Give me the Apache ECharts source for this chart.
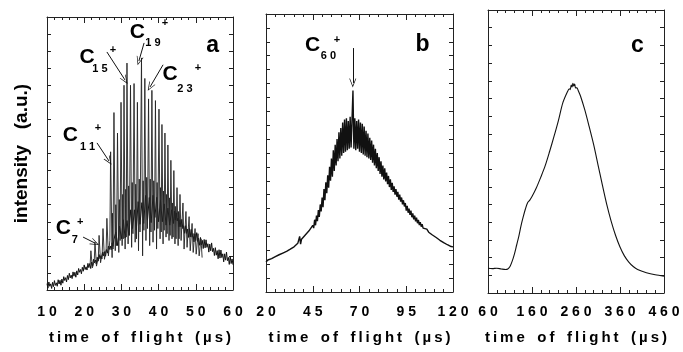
<!DOCTYPE html>
<html><head><meta charset="utf-8">
<script src="https://cdn.jsdelivr.net/npm/echarts@6/dist/echarts.min.js"></script>
<style>html,body{margin:0;padding:0;background:#fff}#c{width:683px;height:352px}</style>
</head><body><div id="c"></div>
<script>
// ---------- tick labels ----------
const ticksA = [10, 20, 30, 40, 50, 60];
const ticksB = [20, 45, 70, 95, 120];
const ticksC = [60, 160, 260, 360, 460];
const yMaxA = 16, yMaxB = 20, yMaxC = 16;

// ---------- panel a : noisy background [t(us), intensity] ----------
const baseA = [[10,0.37],[10.25,0.11],[10.5,0.47],[10.75,0.22],[11,0.36],[11.25,0.09],[11.5,0.45],[11.75,0.2],[12,0.55],[12.25,0.27],[12.5,0.42],[12.75,0.22],[13,0.6],[13.25,0.35],[13.5,0.57],[13.75,0.28],[14,0.64],[14.25,0.4],[14.5,0.78],[14.75,0.56],[15,0.72],[15.25,0.47],[15.5,0.85],[15.75,0.61],[16,0.98],[16.25,0.71],[16.5,0.87],[16.75,0.67],[17,1.06],[17.25,0.81],[17.5,1.04],[17.75,0.75],[18,1.12],[18.25,0.88],[18.5,1.26],[18.75,1.04],[19,1.2],[19.25,0.95],[19.5,1.33],[19.75,1.1],[20,1.47],[20.25,1.2],[20.5,1.36],[20.75,1.17],[21,1.56],[21.25,1.31],[21.5,1.55],[21.75,1.26],[22,1.64],[22.25,1.41],[22.5,1.8],[22.75,1.59],[23,1.76],[23.25,1.52],[23.5,1.92],[23.75,1.69],[24,2.08],[24.25,1.83],[24.5,2.01],[24.75,1.82],[25,2.23],[25.25,2.0],[25.5,2.25],[25.75,1.98],[26,2.37],[26.25,2.16],[26.5,2.57],[26.75,2.38],[27,2.58],[27.25,2.36],[27.5,2.77],[27.75,2.56],[28,2.97],
  [28.5,3.4],[29,2.6],[29.5,3.75],[30,3.0],[30.5,4.12],[31,3.05],[31.5,4.07],[32,3.2],[32.5,4.7],[33,3.6],[33.5,4.7],[34,3.5],[34.5,5.18],[35,3.85],[35.5,5.12],[36,3.9],[36.5,5.54],[37,4.08],[37.5,5.42],[38,3.95],[38.5,5.55],[39,4.25],[39.5,5.43],[40,4.0],[40.5,5.26],[41,4.0],[41.5,5.05],[42,3.8],[42.5,4.8],[43,3.8],[43.5,4.7],[44,3.9],
  [44.25,4.62],[44.5,4.1],[44.75,4.52],[45,4.05],[45.25,4.22],[45.5,3.7],[45.75,4.12],[46,3.7],[46.25,4.14],[46.5,3.6],[46.75,3.76],[47,3.32],[47.25,3.77],[47.5,3.32],[47.75,3.57],[48,3.08],[48.25,3.6],[48.5,3.1],[48.75,3.55],[49,3.1],[49.25,3.31],[49.5,2.82],[49.75,3.29],[50,2.9],[50.25,3.36],[50.5,2.85],[50.75,3.04],[51,2.62],[51.25,3.08],[51.5,2.64],[51.75,2.91],[52,2.43],[52.25,2.96],[52.5,2.47],[52.75,2.94],[53,2.5],[53.25,2.71],[53.5,2.22],[53.75,2.69],[54,2.3],[54.25,2.76],[54.5,2.25],[54.75,2.44],[55,2.02],[55.25,2.48],[55.5,2.04],[55.75,2.31],[56,1.83],[56.25,2.36],[56.5,1.87],[56.75,2.34],[57,1.9],[57.25,2.12],[57.5,1.65],[57.75,2.12],[58,1.75],[58.25,2.22],[58.5,1.72],[58.75,1.91],[59,1.5],[59.25,1.97],[59.5,1.55],[59.75,1.82],[60,1.48]];

// ---------- panel a : cluster peak comb [t(us), intensity] ----------
const combA = [[21.6,1.5],[21.8,2.3],[22.2,1.3],[22.7,1.7],[22.9,2.8],[23.3,1.4],[23.8,1.9],[24.0,3.2],[24.4,1.6],[24.85,2.2],[25.05,3.6],[25.45,1.8],[25.9,2.4],[26.1,4.2],[26.5,2.0],[26.9,2.9],[27.1,8.1],[27.5,1.9],[27.6,4.5],[27.75,2.4],[28.0,10.4],[28.35,2.3],[28.5,5.0],[28.7,2.6],[28.95,9.2],[29.3,2.2],[29.45,5.3],[29.65,2.9],[29.9,11.0],[30.2,2.6],[30.35,5.6],[30.5,3.0],[30.7,12.0],[31.0,2.4],[31.15,5.9],[31.3,3.1],[31.5,13.3],[31.8,2.7],[31.95,6.1],[32.15,3.2],[32.45,12.0],[32.75,2.5],[32.9,6.3],[33.1,3.3],[33.4,12.1],[33.7,2.8],[33.85,6.2],[34.05,3.0],[34.3,11.0],[34.6,2.3],[34.8,6.5],[35.0,3.4],[35.4,13.6],[35.7,2.0],[35.85,6.4],[36.05,3.5],[36.3,12.4],[36.6,2.9],[36.8,6.6],[37.0,3.6],[37.3,11.2],[37.6,2.6],[37.75,6.5],[37.95,3.4],[38.2,11.7],[38.5,2.8],[38.7,6.4],[38.9,3.5],[39.15,11.1],[39.45,2.4],[39.6,6.3],[39.8,3.6],[40.1,10.6],[40.4,3.0],[40.5,6.0],[40.7,3.4],[40.9,9.7],[41.2,2.7],[41.3,5.8],[41.5,3.5],[41.7,9.2],[42.0,3.1],[42.1,5.6],[42.3,3.3],[42.5,8.5],[42.8,2.9],[42.9,5.4],[43.1,3.2],[43.3,7.6],[43.6,3.0],[43.7,5.1],[43.9,3.1],[44.1,7.0],[44.4,2.7],[44.5,4.9],[44.7,3.0],[44.95,6.0],[45.25,2.6],[45.35,4.6],[45.5,3.0],[45.75,5.6],[46.05,2.9],[46.55,5.1],[46.85,2.4],[47.35,4.6],[47.65,2.5],[48.2,4.3],[48.5,2.3],[49.0,3.9],[49.3,2.2],[49.8,3.6],[50.1,2.1],[50.6,3.3],[50.9,2.0],[51.4,3.0],[51.7,1.9]];

// ---------- panel b [t(us), intensity] ----------
const curveB = [[20,2.15],[21,2.3],[22,2.25],[23,2.4],[24,2.35],[25,2.55],[26,2.5],[27,2.68],[28,2.62],[29,2.8],[30,2.72],[31,2.92],[32,2.88],[33,3.08],[34,3.0],[35,3.25],[36,3.22],[37,3.5],[37.5,3.4],[38,4.0],[38.5,3.45],[39,3.8],[40,3.85],[41,4.1],[42,4.15],[43,4.4],[44,4.5],[45,4.8],[45.5,4.6],[46,5.2],[46.5,4.8],[47,5.5],[47.5,5.1],[48,5.9],[48.5,5.4],[49,6.3],[49.5,5.8],[50,6.8],[50.5,6.1],[51,7.4],[51.5,6.6],[52,7.9],[52.5,7.1],[53,8.4],[53.5,7.5],[54,9.0],[54.5,8.0],[55,9.6],[55.5,8.3],[56,10.2],[56.5,8.7],[57,10.6],[57.5,9.1],[58,11.0],[58.5,9.4],[59,11.5],[59.5,9.6],[60,11.8],[60.5,9.8],[61,12.2],[61.5,10.0],[62,12.4],[62.5,10.1],[63,12.5],[63.5,10.2],[64,12.3],[64.5,10.3],[65,12.6],[65.5,10.4],[66,12.4],[66.5,14.5],[67,10.3],[67.5,12.5],[68,10.2],[68.5,12.3],[69,10.3],[69.5,12.4],[70,10.1],[70.5,12.2],[71,10.0],[71.5,12.1],[72,9.9],[72.5,11.9],[73,9.8],[73.5,11.6],[74,9.7],[74.5,11.4],[75,9.6],[75.5,11.1],[76,9.5],[76.5,10.9],[77,9.3],[77.5,10.6],[78,9.1],[78.5,10.3],[79,8.9],[79.5,10.0],[80,8.7],[80.5,9.7],[81,8.5],[81.5,9.4],[82,8.3],[82.5,9.1],[83,8.1],[83.5,8.9],[84,7.95],[84.5,8.6],[85,7.75],[85.5,8.35],[86,7.55],[86.5,8.1],[87,7.35],[87.5,7.85],[88,7.2],[88.5,7.6],[89,7.0],[89.5,7.4],[90,6.85],[90.5,7.2],[91,6.65],[91.5,7.0],[92,6.5],[92.5,6.8],[93,6.3],[93.5,6.6],[94,6.15],[94.5,6.4],[95,5.85],[95.5,6.2],[96,5.7],[96.5,6.0],[97,5.55],[97.5,5.85],[98,5.38],[98.5,5.65],[99,5.22],[99.5,5.5],[100,5.08],[100.5,5.35],[101,4.95],[101.5,5.18],[102,4.82],[102.5,5.02],[103,4.7],[103.5,4.88],[104,4.6],[104.5,4.74],[105,4.5],[106,4.52],[107,4.3],[108,4.28],[109,4.1],[110,4.08],[111,3.92],[112,3.88],[113,3.72],[114,3.68],[115,3.55],[116,3.52],[117,3.4],[118,3.38],[119,3.27],[120,3.25]];

// ---------- panel c [t(us), intensity] ----------
const curveC = [[60,1.40],[70,1.38],[80,1.40],[90,1.36],[100,1.33],[105,1.36],[110,1.5],[115,1.8],[120,2.2],[125,2.7],[130,3.2],[135,3.8],[140,4.3],[145,4.75],[150,5.1],[155,5.25],[160,5.45],[170,5.95],[180,6.55],[190,7.2],[200,8.0],[210,8.85],[220,9.75],[230,10.75],[240,11.35],[245,11.55],[247,11.5],[249,11.75],[251,11.65],[253,11.85],[255,11.7],[257,11.82],[259,11.6],[262,11.6],[265,11.45],[270,11.15],[280,10.35],[290,9.4],[300,8.4],[310,7.25],[320,6.1],[330,5.0],[340,4.05],[350,3.25],[360,2.6],[370,2.1],[380,1.75],[390,1.5],[400,1.33],[420,1.15],[440,1.03],[460,0.95]];

// ---------- annotations (text, t, intensity, kind) ----------
const annA = [['C',20.75,13.63,'big'],['1 5',24.25,12.95,'sub'],['+',27.7,14.07,'sup'],
  ['C',34.3,15.1,'big'],['1 9',38.5,14.45,'sub'],['+',41.7,15.65,'sup'],
  ['C',43.06,12.63,'big'],['2 3',47.1,11.8,'sub'],['+',50.6,13.0,'sup'],
  ['C',16.3,9.06,'big'],['1 1',20.9,8.41,'sub'],['+',23.7,9.5,'sup'],
  ['C',14.4,3.6,'big'],['7',17.5,2.93,'sub'],['+',18.9,3.99,'sup'],
  ['a',54.5,14.33,'panel']];
const arrowsA = [[26.1,13.95,31.0,12.3],[36.1,14.48,34.7,13.42],[41.2,13.2,37.7,11.9],[23.44,8.62,26.67,7.56],[19.7,3.1,22.9,2.75]];
const annB = [['C',44.9,17.73,'big'],['6 0',53.4,16.98,'sub'],['+',58.0,18.13,'sup'],['b',103.7,17.77,'panel']];
const arrowsB = [[66.4,17.55,66.4,15.04]];
const annC = [['c',399.8,14.0,'panel']];

const FONT = 'Liberation Sans';
const KIND = {big:21, sub:11, sup:11, panel:23};
const INK = '#111';
const TS = '\u2009';
function spaced(s){ return s.split(' ').map(w=>w.split('').join(TS)).join('   '); }

function markPts(ann){
  return {symbol:'circle', symbolSize:1, itemStyle:{color:'rgba(0,0,0,0)'}, silent:true,
    data: ann.map(a=>({coord:[a[1],a[2]], label:{show:true, position:'inside', formatter:a[0],
      color:'#000', fontFamily:FONT, fontWeight:'bold', fontSize:KIND[a[3]]}}))};
}
function markArr(arr){
  return {silent:true, symbol:['none','path://M0,0 L6,10 L4.8,10 L0,2.2 L-4.8,10 L-6,10 Z'], symbolSize:[7,9],
    lineStyle:{color:INK, width:1, type:'solid'}, label:{show:false},
    data: arr.map(a=>[{coord:[a[0],a[1]]},{coord:[a[2],a[3]]}])};
}

const grids = [
  {left:47, top:17, width:186, height:273},
  {left:266, top:14, width:187, height:278},
  {left:488, top:10, width:176, height:283}
];
const ticks = [ticksA, ticksB, ticksC];
const ymax = [yMaxA, yMaxB, yMaxC];
const lblMargin = [15, 13, 12];
const nameGap = [40, 38, 37];

const xAxis = [], yAxis = [];
ticks.forEach((tk,i)=>{
  const common = {gridIndex:i, type:'value', min:tk[0], max:tk[tk.length-1], interval:tk[1]-tk[0],
    axisLine:{show:true, onZero:false, lineStyle:{color:'#222', width:1}},
    axisTick:{show:true, inside:true, length:6, lineStyle:{color:'#222', width:1}},
    minorTick:{show:true, splitNumber:5, length:3, lineStyle:{color:'#222', width:1}},
    splitLine:{show:false}, minorSplitLine:{show:false}};
  xAxis.push(Object.assign({}, common, {position:'bottom',
    axisLabel:{show:true, margin:lblMargin[i], color:'#000', fontFamily:FONT, fontWeight:'bold', fontSize:14,
      showMinLabel:true, showMaxLabel:true, formatter:v=>String(v).split('').join(' ')},
    name:spaced('time of flight (µs)'), nameLocation:'middle', nameGap:nameGap[i],
    nameTextStyle:{color:'#000', fontFamily:FONT, fontWeight:'bold', fontSize:15}}));
  xAxis.push(Object.assign({}, common, {position:'top', axisLabel:{show:false}}));
  const yc = {gridIndex:i, type:'value', min:0, max:ymax[i], interval:1,
    axisLine:{show:true, onZero:false, lineStyle:{color:'#222', width:1}},
    axisTick:{show:true, inside:true, length:4, lineStyle:{color:'#222', width:1}},
    axisLabel:{show:false}, splitLine:{show:false}};
  const yl = Object.assign({}, yc, {position:'left'});
  if(i===0){ Object.assign(yl, {name:'intensity   (a.u.)', nameLocation:'middle', nameGap:16, nameRotate:90,
    nameTextStyle:{color:'#000', fontFamily:FONT, fontWeight:'bold', fontSize:19}}); }
  yAxis.push(yl);
  yAxis.push(Object.assign({}, yc, {position:'right'}));
});

const lineBase = {type:'line', symbol:'none', showSymbol:false, silent:true, animation:false};
const series = [
  Object.assign({}, lineBase, {xAxisIndex:0, yAxisIndex:0, data:baseA, lineStyle:{color:INK, width:1}}),
  Object.assign({}, lineBase, {xAxisIndex:0, yAxisIndex:0, data:combA, lineStyle:{color:'#222', width:0.9},
    markPoint:markPts(annA), markLine:markArr(arrowsA)}),
  Object.assign({}, lineBase, {xAxisIndex:2, yAxisIndex:2, data:curveB, lineStyle:{color:INK, width:1.4},
    markPoint:markPts(annB), markLine:markArr(arrowsB)}),
  Object.assign({}, lineBase, {xAxisIndex:4, yAxisIndex:4, data:curveC, smooth:0.3, lineStyle:{color:INK, width:1.1},
    markPoint:markPts(annC)})
];

const chart = echarts.init(document.getElementById('c'), null, {renderer:'canvas'});
chart.setOption({animation:false, backgroundColor:'#fff', grid:grids, xAxis, yAxis, series});
</script></body></html>
